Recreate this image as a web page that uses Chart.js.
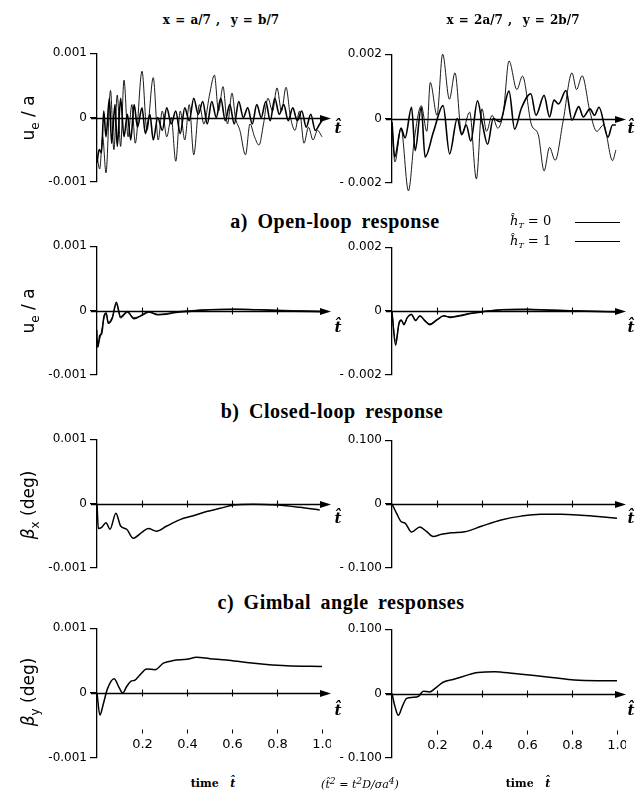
<!DOCTYPE html>
<html>
<head>
<meta charset="utf-8">
<script src="https://cdn.jsdelivr.net/npm/chart.js@4.4.1/dist/chart.umd.min.js"></script>
<style>
  body { margin: 0; background: #fff; }
  #fig { position: relative; width: 635px; height: 794px; overflow: hidden; background: #fff; color: #000; }
  .panel { position: absolute; }
  .txt { position: absolute; white-space: nowrap; transform: translate(-50%, -50%); line-height: 1; }
  .hdr { font: bold 12px "DejaVu Serif", serif; word-spacing: 1px; }
  .cap { font: bold 20px "Liberation Serif", serif; letter-spacing: 0.5px; word-spacing: 4px; }
  .yt { font: 17px "DejaVu Sans", sans-serif; transform: translate(-50%, -50%) rotate(-90deg); }
  .yt sub { font-size: 12px; }
  .th { font: italic bold 15px "DejaVu Serif", serif; }
  .leg { position: absolute; white-space: nowrap; font: italic 13px "DejaVu Serif", serif; transform: translateY(-50%); line-height: 1; }
  .leg sub { font-size: 8px; }
  .legline { position: absolute; height: 0; }
  .bot { font: bold 11px "DejaVu Serif", serif; }
  .form { font: italic 11px "DejaVu Serif", serif; }
</style>
</head>
<body>
<div id="fig"></div>
<script>
// time axis (t-hat), shared by every panel
var X_TICKS = [0.2, 0.4, 0.6, 0.8];
var X_TICK_LABELS = ['0.2', '0.4', '0.6', '0.8', '1.0'];
var X_LABEL_VALUES = [0.2, 0.4, 0.6, 0.8, 1.0];

var Y_LABELS_1 = ['-0.001', '0', '0.001'];
var Y_LABELS_2 = ['- 0.002', '0', '0.002'];
var Y_LABELS_DEG = ['- 0.100', '0', '0.100'];

// a) open-loop, x=a/7, y=b/7
var openL_t0 = [0, 0.012, 0.025, 0.04, 0.06, 0.075, 0.09, 0.105, 0.12, 0.138, 0.155, 0.17, 0.2, 0.222, 0.25, 0.272, 0.29, 0.31, 0.33, 0.35, 0.37, 0.39, 0.41, 0.43, 0.455, 0.475, 0.5, 0.522, 0.54, 0.56, 0.58, 0.6, 0.615, 0.635, 0.66, 0.68, 0.7, 0.72, 0.74, 0.76, 0.78, 0.8, 0.82, 0.84, 0.86, 0.88, 0.9, 0.92, 0.94, 0.96, 0.98, 1.0];
var openL_v0 = [-0.6e-3, -0.8e-3, -0.3e-3, -0.86e-3, 0.42e-3, -0.5e-3, 0.35e-3, -0.45e-3, 0.58e-3, -0.3e-3, 0.2e-3, -0.4e-3, 0.72e-3, -0.2e-3, 0.62e-3, -0.35e-3, 0.1e-3, -0.3e-3, 0, -0.68e-3, 0.1e-3, -0.35e-3, 0.2e-3, -0.58e-3, 0.2e-3, -0.1e-3, 0.35e-3, 0.66e-3, 0.1e-3, 0.48e-3, -0.1e-3, 0.38e-3, 0, -0.2e-3, -0.58e-3, -0.1e-3, -0.3e-3, -0.43e-3, -0.1e-3, 0.3e-3, 0.1e-3, 0.46e-3, 0.1e-3, 0.47e-3, 0, -0.2e-3, 0.1e-3, -0.4e-3, -0.15e-3, -0.35e-3, -0.2e-3, -0.3e-3];
var openL_t1 = [0, 0.01, 0.02, 0.03, 0.04, 0.055, 0.065, 0.08, 0.09, 0.105, 0.12, 0.135, 0.15, 0.165, 0.18, 0.2, 0.215, 0.235, 0.25, 0.27, 0.29, 0.31, 0.33, 0.35, 0.37, 0.39, 0.41, 0.43, 0.45, 0.47, 0.49, 0.51, 0.53, 0.55, 0.57, 0.59, 0.61, 0.63, 0.65, 0.67, 0.69, 0.71, 0.73, 0.75, 0.77, 0.79, 0.81, 0.83, 0.85, 0.87, 0.89, 0.91, 0.93, 0.95, 0.97, 0.99, 1.0];
var openL_v1 = [-0.7e-3, -0.5e-3, -0.55e-3, 0.1e-3, -0.3e-3, 0.3e-3, -0.4e-3, 0.2e-3, -0.45e-3, 0.3e-3, -0.3e-3, 0.05e-3, -0.35e-3, 0.2e-3, -0.15e-3, 0.15e-3, -0.25e-3, 0.05e-3, -0.35e-3, 0, -0.2e-3, 0.15e-3, -0.1e-3, 0.1e-3, -0.25e-3, 0.15e-3, -0.05e-3, 0.3e-3, 0.05e-3, 0.25e-3, -0.1e-3, 0.25e-3, 0, 0.3e-3, -0.05e-3, 0.2e-3, -0.1e-3, 0.25e-3, 0, 0.15e-3, -0.1e-3, 0.2e-3, 0, 0.25e-3, -0.05e-3, 0.3e-3, 0.05e-3, 0.2e-3, -0.05e-3, 0.15e-3, -0.05e-3, 0.1e-3, -0.15e-3, 0.05e-3, -0.2e-3, -0.1e-3, -0.05e-3];

// a) open-loop, x=2a/7, y=2b/7
var openR_t0 = [0, 0.013, 0.04, 0.073, 0.1, 0.13, 0.155, 0.17, 0.2, 0.225, 0.255, 0.28, 0.31, 0.345, 0.375, 0.4, 0.42, 0.445, 0.47, 0.495, 0.52, 0.555, 0.58, 0.62, 0.65, 0.676, 0.7, 0.725, 0.76, 0.8, 0.82, 0.845, 0.88, 0.91, 0.94, 0.98, 0.995];
var openR_v0 = [-0.2e-3, -1.35e-3, -0.3e-3, -2.25e-3, -0.6e-3, 0.4e-3, -0.4e-3, 1.12e-3, 0.1e-3, 2.0e-3, 0.6e-3, 1.42e-3, -0.5e-3, 0.2e-3, -1.88e-3, 0.3e-3, -0.4e-3, 0.1e-3, -0.3e-3, 0.2e-3, 1.79e-3, 0.9e-3, 1.32e-3, -0.2e-3, -0.5e-3, -1.63e-3, -0.9e-3, -1.3e-3, -0.1e-3, 1.42e-3, 0.9e-3, 1.33e-3, 0.2e-3, -0.4e-3, -0.2e-3, -1.31e-3, -0.98e-3];
var openR_t1 = [0, 0.012, 0.04, 0.058, 0.087, 0.103, 0.13, 0.147, 0.185, 0.227, 0.256, 0.29, 0.31, 0.33, 0.35, 0.38, 0.4, 0.425, 0.45, 0.48, 0.52, 0.545, 0.575, 0.617, 0.64, 0.676, 0.7, 0.72, 0.74, 0.773, 0.8, 0.83, 0.85, 0.88, 0.9, 0.92, 0.96, 0.98, 0.995];
var openR_v1 = [-0.1e-3, -1.2e-3, -0.3e-3, -0.6e-3, 0.35e-3, -1.0e-3, 0.35e-3, -1.2e-3, -0.4e-3, 0.4e-3, -1.1e-3, 0, -0.5e-3, -0.2e-3, -0.7e-3, 0.55e-3, -0.1e-3, -0.8e-3, 0, -0.1e-3, 0.85e-3, -0.33e-3, 0.32e-3, 0.77e-3, 0.1e-3, 0.72e-3, 0.05e-3, 0.57e-3, 0.45e-3, 0.87e-3, -0.05e-3, 0.37e-3, 0.05e-3, 0.3e-3, 0.1e-3, 0.35e-3, -0.58e-3, -0.2e-3, -0.2e-3];

// b) closed-loop
var closedL_t = [0, 0.004, 0.012, 0.021, 0.031, 0.041, 0.05, 0.068, 0.086, 0.105, 0.135, 0.164, 0.2, 0.23, 0.27, 0.305, 0.35, 0.42, 0.5, 0.62, 0.72, 0.87, 1.0];
var closedL_v0 = [-0.3e-3, -0.52e-3, -0.45e-3, -0.3e-3, -0.12e-3, -0.06e-3, -0.18e-3, -0.1e-3, 0.1e-3, -0.12e-3, -0.03e-3, -0.11e-3, -0.08e-3, -0.03e-3, -0.06e-3, -0.05e-3, -0.02e-3, 0, 0.015e-3, 0.02e-3, 0.015e-3, 0, -0.01e-3];
var closedL_v1 = [-0.45e-3, -0.57e-3, -0.39e-3, -0.36e-3, -0.09e-3, -0.04e-3, -0.2e-3, -0.12e-3, 0.13e-3, -0.1e-3, -0.015e-3, -0.13e-3, -0.07e-3, -0.02e-3, -0.065e-3, -0.06e-3, -0.03e-3, -0.01e-3, 0.01e-3, 0.02e-3, 0.01e-3, -0.01e-3, -0.02e-3];
var closedR_t = [0, 0.016, 0.031, 0.041, 0.053, 0.068, 0.086, 0.105, 0.124, 0.145, 0.168, 0.2, 0.23, 0.26, 0.304, 0.348, 0.4, 0.495, 0.6, 0.717, 0.864, 0.997];
var closedR_v0 = [-0.05e-3, -0.95e-3, -0.42e-3, -0.3e-3, -0.4e-3, -0.22e-3, -0.12e-3, -0.28e-3, -0.17e-3, -0.28e-3, -0.4e-3, -0.26e-3, -0.16e-3, -0.18e-3, -0.13e-3, -0.07e-3, -0.02e-3, 0.05e-3, 0.06e-3, 0.03e-3, 0, -0.02e-3];
var closedR_v1 = [-0.03e-3, -1.07e-3, -0.38e-3, -0.28e-3, -0.43e-3, -0.2e-3, -0.1e-3, -0.3e-3, -0.15e-3, -0.3e-3, -0.43e-3, -0.28e-3, -0.15e-3, -0.2e-3, -0.15e-3, -0.08e-3, -0.03e-3, 0.04e-3, 0.05e-3, 0.02e-3, -0.01e-3, -0.03e-3];

// c) gimbal angles (deg)
var betaXL_t = [0, 0.006, 0.021, 0.04, 0.058, 0.084, 0.105, 0.132, 0.161, 0.199, 0.228, 0.265, 0.31, 0.369, 0.428, 0.487, 0.547, 0.606, 0.695, 0.8, 0.9, 0.99];
var betaXL_v = [0, -0.39e-3, -0.37e-3, -0.3e-3, -0.4e-3, -0.15e-3, -0.35e-3, -0.4e-3, -0.54e-3, -0.45e-3, -0.39e-3, -0.43e-3, -0.35e-3, -0.25e-3, -0.19e-3, -0.125e-3, -0.075e-3, -0.025e-3, -0.01e-3, -0.025e-3, -0.06e-3, -0.1e-3];
var betaXR_t = [0, 0.021, 0.04, 0.058, 0.087, 0.124, 0.153, 0.183, 0.22, 0.264, 0.323, 0.397, 0.485, 0.574, 0.662, 0.75, 0.84, 0.928, 1.0];
var betaXR_v = [0, -0.015, -0.0275, -0.03, -0.044, -0.036, -0.043, -0.051, -0.0475, -0.045, -0.0435, -0.035, -0.025, -0.019, -0.016, -0.016, -0.0175, -0.02, -0.0225];
var betaYL_t = [0, 0.013, 0.028, 0.046, 0.076, 0.099, 0.114, 0.132, 0.15, 0.169, 0.191, 0.221, 0.258, 0.295, 0.339, 0.399, 0.443, 0.502, 0.576, 0.665, 0.754, 0.843, 1.0];
var betaYL_v = [0, -0.34e-3, -0.17e-3, 0.06e-3, 0.22e-3, 0.08e-3, 0, 0.1e-3, 0.18e-3, 0.2e-3, 0.28e-3, 0.37e-3, 0.36e-3, 0.46e-3, 0.5e-3, 0.52e-3, 0.55e-3, 0.53e-3, 0.51e-3, 0.47e-3, 0.44e-3, 0.42e-3, 0.41e-3];
var betaYR_t = [0, 0.013, 0.028, 0.046, 0.065, 0.094, 0.119, 0.139, 0.168, 0.19, 0.227, 0.279, 0.338, 0.382, 0.456, 0.544, 0.633, 0.721, 0.81, 0.913, 1.0];
var betaYR_v = [0, -0.02, -0.034, -0.02, -0.0075, -0.006, -0.004, 0.0035, 0.0025, 0.0075, 0.0175, 0.0225, 0.029, 0.0325, 0.034, 0.031, 0.028, 0.0245, 0.021, 0.02, 0.02];

var THIN = 0.9, THICK = 1.6, MID = 1.5;

function pts(t, v) {
  var out = [];
  for (var i = 0; i < Math.min(t.length, v.length); i++) out.push({ x: t[i], y: v[i] });
  return out;
}

function line(t, v, w) {
  return {
    data: pts(t, v),
    borderColor: '#000',
    borderWidth: w,
    pointRadius: 0,
    cubicInterpolationMode: 'monotone',
    fill: false,
    clip: 10,
  };
}

var crossAxis = {
  id: 'crossAxis',
  afterDatasetsDraw: function (chart, args, opts) {
    var ctx = chart.ctx, a = chart.chartArea;
    var xs = chart.scales.x, ys = chart.scales.y;
    var y0 = Math.round(ys.getPixelForValue(0)) + 0.5;
    ctx.save();
    ctx.strokeStyle = '#000';
    ctx.fillStyle = '#000';
    ctx.lineWidth = 1.3;
    ctx.beginPath();
    ctx.moveTo(a.left - 6, y0);
    ctx.lineTo(a.right - 8, y0);
    ctx.stroke();
    ctx.beginPath();
    ctx.moveTo(a.right, y0);
    ctx.lineTo(a.right - 11, y0 - 3.5);
    ctx.lineTo(a.right - 11, y0 + 3.5);
    ctx.closePath();
    ctx.fill();
    if (opts.ticks) {
      ctx.lineWidth = 1.1;
      X_TICKS.forEach(function (t) {
        var x = Math.round(xs.getPixelForValue(t)) + 0.5;
        ctx.beginPath();
        ctx.moveTo(x, y0 - 4);
        ctx.lineTo(x, y0 + 3);
        ctx.stroke();
      });
    }
    if (opts.labels) {
      ctx.font = '13px "DejaVu Sans"';
      ctx.textAlign = 'center';
      ctx.textBaseline = 'middle';
      ctx.lineWidth = 1;
      X_LABEL_VALUES.forEach(function (t, i) {
        var x = Math.round(xs.getPixelForValue(t)) + 0.5;
        ctx.beginPath();
        ctx.moveTo(x, y0 + 36);
        ctx.lineTo(x, y0 + 40);
        ctx.stroke();
        ctx.fillText(X_TICK_LABELS[i], x, y0 + 51);
      });
    }
    ctx.restore();
  }
};

var fig = document.getElementById('fig');
var YW = 62, PAD = 8, XMAX = 1.04;

function panel(axisX, top, bottom, ymax, ylabels, datasets, ticks, labels) {
  var div = document.createElement('div');
  div.className = 'panel';
  div.style.left = (axisX - YW) + 'px';
  div.style.top = (top - PAD) + 'px';
  div.style.width = (YW + Math.round(XMAX * 225)) + 'px';
  div.style.height = (bottom - top + 2 * PAD) + 'px';
  var cv = document.createElement('canvas');
  div.appendChild(cv);
  fig.appendChild(div);
  new Chart(cv, {
    type: 'line',
    data: { datasets: datasets },
    options: {
      responsive: true,
      maintainAspectRatio: false,
      animation: false,
      devicePixelRatio: 1,
      layout: { padding: { top: PAD, bottom: PAD, left: 0, right: 0 } },
      plugins: { legend: { display: false }, tooltip: { enabled: false }, crossAxis: { ticks: ticks, labels: labels } },
      scales: {
        x: { type: 'linear', min: 0, max: XMAX, display: false },
        y: {
          min: -ymax, max: ymax,
          afterBuildTicks: function (s) { s.ticks = [{ value: -ymax }, { value: 0 }, { value: ymax }]; },
          afterFit: function (s) { s.width = YW; },
          border: { display: true, color: '#000', width: 1.3 },
          grid: { drawOnChartArea: false, drawTicks: true, tickLength: 7, color: '#000', lineWidth: 1.2 },
          ticks: {
            color: '#000', padding: 3, autoSkip: false,
            font: { family: 'DejaVu Sans', size: 12 },
            callback: function (v, i) { return ylabels[i]; }
          }
        }
      }
    },
    plugins: [crossAxis]
  });
}

// rows: a) open-loop, b) closed-loop, c) beta_x, beta_y
panel(97, 51, 184, 0.001, Y_LABELS_1, [line(openL_t0, openL_v0, THIN), line(openL_t1, openL_v1, THICK)], false, false);
panel(392, 52, 185, 0.002, Y_LABELS_2, [line(openR_t0, openR_v0, THIN), line(openR_t1, openR_v1, THICK)], false, false);
panel(97, 244, 377, 0.001, Y_LABELS_1, [line(closedL_t, closedL_v0, THIN), line(closedL_t, closedL_v1, MID)], true, false);
panel(392, 245, 377, 0.002, Y_LABELS_2, [line(closedR_t, closedR_v0, THIN), line(closedR_t, closedR_v1, MID)], true, false);
panel(97, 437, 570, 0.001, Y_LABELS_1, [line(betaXL_t, betaXL_v, MID)], true, false);
panel(392, 438, 570, 0.1, Y_LABELS_DEG, [line(betaXR_t, betaXR_v, MID)], true, false);
panel(97, 626, 760, 0.001, Y_LABELS_1, [line(betaYL_t, betaYL_v, MID)], true, true);
panel(392, 627, 760, 0.1, Y_LABELS_DEG, [line(betaYR_t, betaYR_v, MID)], true, true);

function txt(cls, x, y, html) {
  var d = document.createElement('div');
  d.className = 'txt ' + cls;
  d.style.left = x + 'px';
  d.style.top = y + 'px';
  d.innerHTML = html;
  fig.appendChild(d);
}

txt('hdr', 221, 20, 'x = a/7 ,&nbsp; y = b/7');
txt('hdr', 513, 20, 'x = 2a/7 ,&nbsp; y = 2b/7');
txt('cap', 335, 221, 'a) Open-loop response');
txt('cap', 332, 411, 'b) Closed-loop response');
txt('cap', 341, 602, 'c) Gimbal angle responses');

txt('yt', 30, 118, 'u<sub>e</sub> / a');
txt('yt', 30, 311, 'u<sub>e</sub> / a');
txt('yt', 30, 505, '<i>β</i><sub>x</sub> (deg)');
txt('yt', 30, 692, '<i>β</i><sub>y</sub> (deg)');

[128, 327, 518, 710].forEach(function (y) {
  txt('th', 338, y, 't\u0302');
  txt('th', 631, y, 't\u0302');
});

txt('bot', 213, 783, 'time&nbsp;&nbsp; <i>t\u0302</i>');
txt('form', 360, 783, '(<i>t\u0302</i><sup>2</sup> = <i>t</i><sup>2</sup><i>D</i>/<i>σa</i><sup>4</sup>)');
txt('bot', 528, 783, 'time&nbsp;&nbsp; <i>t\u0302</i>');

// legend
[['0', 222, THIN], ['1', 242, THICK]].forEach(function (e) {
  var d = document.createElement('div');
  d.className = 'leg';
  d.style.left = '510px';
  d.style.top = e[1] + 'px';
  d.innerHTML = 'ĥ<sub>T</sub> <span style="font-style:normal">= ' + e[0] + '</span>';
  fig.appendChild(d);
  var l = document.createElement('div');
  l.className = 'legline';
  l.style.left = '575px';
  l.style.width = '45px';
  l.style.top = (e[1] - e[2] / 2) + 'px';
  l.style.borderTop = e[2] + 'px solid #000';
  fig.appendChild(l);
});
</script>
</body>
</html>
